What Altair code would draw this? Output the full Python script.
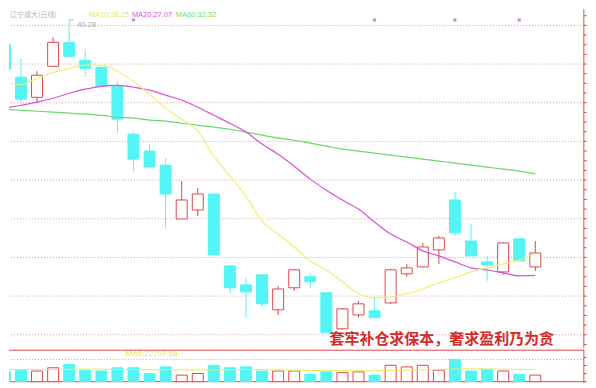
import altair as alt
import pandas as pd
import numpy as np

# ---------------- data ----------------
idx = list(range(1, 35))
opens = [39.02, 37.32, 36.28, 37.88, 39.12, 38.19, 37.83, 36.85, 34.37, 33.50,
         32.77, 29.99, 30.45, 31.28, 27.56, 26.58, 27.10, 25.29, 26.43, 27.00,
         26.17, 24.31, 25.03, 25.24, 25.65, 27.15, 27.51, 28.39, 30.97, 28.85,
         27.77, 27.25, 28.96, 27.51]
highs = [39.28, 38.30, 37.63, 39.38, 40.28, 38.76, 37.94, 37.11, 34.48, 33.86,
         33.14, 31.95, 31.59, 31.28, 27.61, 26.94, 27.10, 26.53, 27.41, 27.20,
         26.17, 25.39, 25.75, 25.96, 27.41, 27.66, 28.75, 29.11, 31.38, 29.73,
         28.08, 28.80, 28.96, 28.85]
lows = [37.47, 35.97, 35.97, 37.88, 38.40, 37.37, 36.80, 34.43, 32.46, 32.62,
        29.47, 29.99, 30.14, 28.13, 26.12, 24.88, 25.45, 25.03, 26.27, 26.43,
        24.10, 24.26, 24.88, 24.88, 25.60, 27.00, 27.51, 27.66, 29.11, 28.08,
        26.79, 27.10, 27.82, 27.30]
closes = [37.73, 36.18, 37.42, 39.12, 38.40, 37.78, 36.85, 35.15, 33.08, 32.67,
          31.28, 30.97, 31.28, 28.13, 26.43, 26.22, 25.60, 26.37, 27.36, 26.74,
          24.10, 25.34, 25.60, 24.88, 27.36, 27.46, 28.54, 29.01, 29.27, 28.08,
          27.61, 28.75, 27.82, 28.23]
ma10 = [37.01, 36.95, 37.26, 37.57, 37.78, 37.94, 37.94, 37.63, 37.11, 36.44,
        35.72, 35.15, 34.53, 33.24, 32.21, 31.17, 29.88, 29.21, 28.54, 27.82,
        27.35, 26.74, 26.12, 25.91, 25.96, 26.12, 26.37, 26.68, 26.94, 27.25,
        27.46, 27.66, 27.87, 28.20]
ma20 = [35.72, 35.87, 36.03, 36.23, 36.49, 36.70, 36.85, 36.90, 36.80, 36.65,
        36.39, 36.13, 35.77, 35.35, 34.94, 34.48, 33.86, 33.34, 32.72, 32.05,
        31.48, 30.97, 30.50, 29.83, 29.21, 28.80, 28.34, 28.08, 27.77, 27.46,
        27.35, 27.20, 27.05, 27.07]
ma60 = [35.66, 35.61, 35.56, 35.51, 35.46, 35.41, 35.35, 35.25, 35.20, 35.10,
        35.05, 34.94, 34.84, 34.74, 34.63, 34.48, 34.32, 34.17, 34.06, 33.91,
        33.76, 33.60, 33.50, 33.39, 33.29, 33.19, 33.08, 32.98, 32.88, 32.77,
        32.67, 32.57, 32.46, 32.32]
volumes = [18200, 21300, 19800, 25800, 31900, 21300, 19800, 25800, 25800, 15200,
           27400, 12200, 15200, 30400, 25800, 27400, 19800, 19800, 19800, 13700,
           18200, 16700, 18200, 12200, 30400, 27400, 30400, 21300, 41000, 19800,
           22800, 19800, 13700, 12200]
vol_ma5 = [22800, 22600, 22400, 22600, 23000, 23300, 23100, 22700, 22400, 22100,
           22300, 21800, 21400, 21800, 22200, 22500, 22200, 21700, 21300, 20900,
           20600, 20400, 20300, 20200, 20600, 21300, 22000, 22500, 23400, 23800,
           23500, 23100, 22800, 22800]
price_grid = [40, 38, 36, 34, 32, 30, 28, 26, 24]
price_ticks = [v / 2 for v in range(47, 82)]
vol_ticks = [0, 15000, 30000, 45000]
marker_idx = [9, 24, 29, 33]
legend_labels = ["MA10:28.25", "MA20:27.07", "MA60:32.32"]
title_label = "辽宁成大(日线)"
high_label = "40.28"
vol_label = "MA5:22797.58"
slogan = "套牢补仓求保本，奢求盈利乃为贪"

# ---------------- styling ----------------
RED = "#e04848"
CYAN = "#55f4f4"
YELLOW = "#f0f070"
MAGENTA = "#dc50dc"
GREEN = "#6cd86c"
GRID = "#dc9a9a"
W = 576
H_PRICE = 339
H_VOL = 33
X_MIN, X_MAX = 1.255, 37.03
TICK_LEN = 0.17  # in index units (under 3 px)
HEAD_P = 40.55   # level of the header texts

df = pd.DataFrame(dict(i=idx, o=opens, h=highs, l=lows, c=closes,
                       v=volumes, ma10=ma10, ma20=ma20, ma60=ma60, vma=vol_ma5))
df["dir"] = np.where(df["c"] >= df["o"], "up", "down")

xs = alt.Scale(domain=[X_MIN, X_MAX], nice=False, zero=False, padding=0)
X = alt.X("i:Q", scale=xs, axis=None)
ps = alt.Scale(domain=[23.33, 40.83], nice=False, zero=False, padding=0)
stroke_scale = alt.Scale(domain=["up", "down"], range=[RED, CYAN])
fill_scale = alt.Scale(domain=["up", "down"], range=["#ffffff", CYAN])

base = alt.Chart(df)


def Yp(field):
    return alt.Y(field, scale=ps, axis=None)


grid = alt.Chart(pd.DataFrame({"p": price_grid})).mark_rule(
    color=GRID, strokeDash=[1, 2], strokeWidth=1
).encode(y=Yp("p:Q"))

edge_df = pd.DataFrame({"i": [X_MAX - 0.01]})
right_edge = alt.Chart(edge_df).mark_rule(color=RED, strokeWidth=1).encode(x=X)

tick_df = pd.DataFrame({"p": price_ticks, "i": [X_MAX] * len(price_ticks),
                        "i2": [X_MAX + TICK_LEN] * len(price_ticks)})
right_ticks = alt.Chart(tick_df).mark_rule(color=RED, strokeWidth=1).encode(
    x=X, x2="i2:Q", y=Yp("p:Q"))

wicks = base.mark_rule(strokeWidth=1, clip=True).encode(
    x=X, y=Yp("l:Q"), y2="h:Q",
    stroke=alt.Stroke("dir:N", scale=stroke_scale, legend=None),
)
bodies = base.mark_bar(width=11, strokeWidth=1, clip=True).encode(
    x=X, y=Yp("o:Q"), y2="c:Q",
    fill=alt.Fill("dir:N", scale=fill_scale, legend=None),
    stroke=alt.Stroke("dir:N", scale=stroke_scale, legend=None),
)


def ma_line(field, color):
    return base.mark_line(color=color, strokeWidth=1.2, interpolate="monotone",
                          clip=True).encode(x=X, y=Yp(f"{field}:Q"))


lines = ma_line("ma60", GREEN) + ma_line("ma20", MAGENTA) + ma_line("ma10", YELLOW)

markers = alt.Chart(pd.DataFrame({"i": marker_idx, "p": [40.28] * len(marker_idx)})).mark_point(
    shape="cross", angle=45, size=14, filled=True, color="#b050c8"
).encode(x=X, y=Yp("p:Q"))


def legend_text(label, pos, color):
    return alt.Chart(pd.DataFrame({"t": [label], "i": [pos], "p": [HEAD_P]})).mark_text(
        align="left", baseline="middle", fontSize=7.5, font="Liberation Sans", color=color
    ).encode(x=X, y=Yp("p:Q"), text="t:N")


legend_txt = (legend_text(legend_labels[0], 6.22, "#e8e850")
              + legend_text(legend_labels[1], 8.90, MAGENTA)
              + legend_text(legend_labels[2], 11.63, "#70d870"))

title_txt = alt.Chart(pd.DataFrame({"t": [title_label], "i": [1.33], "p": [HEAD_P]})).mark_text(
    align="left", baseline="middle", fontSize=7, font="Noto Sans CJK SC",
    color="#b4b4b4"
).encode(x=X, y=Yp("p:Q"), text="t:N")

hi_df = pd.DataFrame({"i": [5.0], "i2": [5.3], "p": [40.28], "t": [high_label]})
hi_tick = alt.Chart(hi_df).mark_rule(color="#b8b8b8", strokeWidth=1).encode(
    x=X, x2="i2:Q", y=Yp("p:Q"))
hi_txt = alt.Chart(hi_df).mark_text(
    align="left", baseline="middle", dx=8, dy=5, fontSize=7.5,
    font="Liberation Sans", color="#a8a8a8"
).encode(x=X, y=Yp("p:Q"), text="t:N")

slogan_txt = alt.Chart(pd.DataFrame({"t": [slogan], "i": [28.18], "p": [23.80]})).mark_text(
    align="center", baseline="middle", fontSize=15, fontWeight="bold",
    font="Noto Sans CJK SC", color="#d42a2a"
).encode(x=X, y=Yp("p:Q"), text="t:N")

price = alt.layer(grid, wicks, bodies, lines, markers, legend_txt, title_txt,
                  hi_tick, hi_txt, slogan_txt, right_edge, right_ticks
                  ).properties(width=W, height=H_PRICE)

# ---------------- volume panel ----------------
vs = alt.Scale(domain=[-1852, 59280], nice=False, zero=False, padding=0)


def Yv(field):
    return alt.Y(field, scale=vs, axis=None)


vgrid = alt.Chart(pd.DataFrame({"v": [41040]})).mark_rule(
    color=GRID, strokeDash=[1, 2]).encode(y=Yv("v:Q"))
vframe = alt.Chart(pd.DataFrame({"v": [0, 58400]})).mark_rule(
    color=RED, strokeWidth=1).encode(y=Yv("v:Q"))
vbars = base.mark_bar(width=11, strokeWidth=1, clip=True).encode(
    x=X, y=Yv("v:Q"), y2=alt.Y2(datum=0),
    fill=alt.Fill("dir:N", scale=fill_scale, legend=None),
    stroke=alt.Stroke("dir:N", scale=stroke_scale, legend=None),
)
vline = base.mark_line(color="#eaea5a", strokeWidth=1, clip=True).encode(
    x=X, y=Yv("vma:Q"))
vtxt = alt.Chart(pd.DataFrame({"t": [vol_label], "i": [8.52], "v": [50500]})).mark_text(
    align="left", baseline="middle", fontSize=8, font="Liberation Sans",
    color="#eaea40"
).encode(x=X, y=Yv("v:Q"), text="t:N")
vtick_df = pd.DataFrame({"v": vol_ticks, "i": [X_MAX] * len(vol_ticks),
                         "i2": [X_MAX + TICK_LEN] * len(vol_ticks)})
vright_ticks = alt.Chart(vtick_df).mark_rule(color=RED, strokeWidth=1).encode(
    x=X, x2="i2:Q", y=Yv("v:Q"))
vright_edge = alt.Chart(edge_df).mark_rule(color=RED, strokeWidth=1).encode(x=X)

vol = alt.layer(vgrid, vframe, vbars, vline, vtxt, vright_edge, vright_ticks
                ).properties(width=W, height=H_VOL)

chart = alt.vconcat(price, vol, spacing=0).properties(
    padding={"left": 0, "top": 0, "right": 0, "bottom": 0},
    background="white",
).configure_view(stroke=None)

chart.save("out.html", embed_options={"renderer": "svg", "actions": False})
